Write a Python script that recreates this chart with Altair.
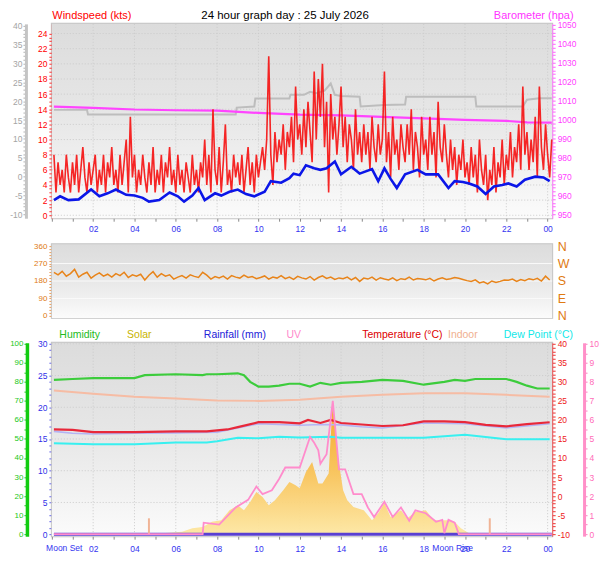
import altair as alt
import pandas as pd

FONT = "Liberation Sans"
W = 502
H1, H2, H3 = 195, 74, 194

TITLE = "24 hour graph day : 25 July 2026"

# ---------------- top panel data ----------------
gust_kts = [
    8, 3, 7, 4, 6, 3, 8, 5, 3, 7,
    4, 8, 3, 6, 9, 5, 3, 7, 4, 6,
    8, 3, 6, 4, 8, 3, 7, 5, 9, 4,
    6, 3, 8, 4, 7, 10, 3, 13, 5, 8,
    3, 6, 4, 8, 5, 3, 7, 4, 9, 3,
    6, 4, 8, 3, 7, 5, 9, 4, 6, 3,
    8, 4, 6, 3, 7, 5, 3, 8, 4, 6,
    3, 7, 5, 10, 4, 8, 3, 14, 6, 4,
    9, 3, 7, 12, 4, 6, 3, 8, 5, 7,
    4, 8, 3, 6, 9, 4, 7, 3, 8, 5,
    7, 9, 6, 10, 21, 8, 4, 11, 7, 10,
    8, 12, 6, 11, 9, 13, 7, 17, 10, 12,
    8, 14, 9, 15, 11, 7, 19, 10, 18, 13,
    20, 9, 15, 3, 16, 10, 13, 8, 12, 17,
    9, 13, 7, 12, 10, 6, 14, 8, 11, 7,
    12, 8, 11, 6, 13, 9, 7, 12, 8, 10,
    19, 7, 11, 5, 13, 8, 10, 6, 12, 9,
    7, 12, 8, 14, 6, 11, 9, 5, 13, 8,
    10, 6, 13, 8, 11, 5, 15, 9, 7, 12,
    8, 5, 10, 6, 9, 4, 8, 6, 10, 5,
    7, 4, 9, 5, 8, 3, 10, 6, 4, 8,
    2, 6, 4, 9, 3, 7, 5, 10, 4, 8,
    6, 11, 5, 9, 7, 12, 6, 17, 8, 11,
    6, 10, 7, 13, 5, 17, 9, 6, 12, 8,
    5, 10,
]
gust_hours = [round(0.1 + 0.1 * i, 2) for i in range(len(gust_kts))]

avg_hours = [0.1, 0.4, 0.8, 1.3, 1.9, 2.3, 2.7, 3.1, 3.6, 4.0, 4.4, 4.7, 5.2, 5.7, 6.1,
             6.4, 6.8, 7.1, 7.4, 7.9, 8.2, 8.6, 9.0, 9.4, 9.8, 10.3, 10.6, 11.1, 11.5,
             11.7, 12.0, 12.3, 12.7, 13.0, 13.3, 13.7, 14.0, 14.5, 14.9, 15.5, 15.8,
             16.1, 16.4, 16.7, 17.1, 17.7, 18.1, 18.7, 19.2, 19.5, 19.9, 20.2, 20.6,
             21.0, 21.4, 21.8, 22.1, 22.5, 22.9, 23.4, 23.8, 24.1]
avg_kts = [2.0, 2.5, 2.0, 2.1, 3.4, 2.5, 2.9, 3.4, 2.7, 2.6, 2.3, 1.8, 2.0, 3.0, 2.5,
           1.8, 2.6, 3.6, 2.0, 2.9, 2.6, 3.1, 3.4, 2.8, 2.5, 3.1, 4.5, 4.3, 4.9,
           5.5, 5.3, 6.6, 6.2, 6.0, 6.2, 7.1, 5.4, 6.4, 5.5, 6.1, 4.5,
           6.2, 4.8, 3.6, 5.4, 6.0, 5.4, 5.4, 3.6, 4.5, 4.4, 4.2, 3.8,
           2.8, 3.8, 4.0, 4.2, 3.8, 4.7, 5.1, 5.0, 4.5]

baro_hours = [0.1, 2, 4, 6, 8, 10, 12, 14, 16, 18, 20, 22, 23, 24.2]
baro_hpa = [1006.8, 1006.2, 1005.3, 1004.9, 1004.7, 1003.5, 1002.6, 1002.2, 1001.4,
            1000.6, 999.8, 999.3, 998.5, 998.4]

grey_hours = [0.1, 1.7, 1.75, 8.9, 8.95, 9.8, 9.85, 11.5, 11.55, 12.2, 12.5, 12.8, 13.2,
              13.5, 13.7, 14.0, 14.9, 14.95, 16.1, 17.1, 17.15, 20.5, 20.55, 22.8,
              23.0, 23.6, 24.2]
grey_vals = [17.7, 17.7, 16.5, 16.5, 18.3, 18.6, 20.7, 20.7, 21.7, 21.7, 22.5, 22.1, 22.8,
             24.7, 21.7, 21.4, 21.2, 18.6, 19.0, 19.1, 21.2, 21.2, 18.6, 18.6,
             20.4, 20.8, 20.8]

# ---------------- middle panel data ----------------
wdir_deg = [
    225, 212, 230, 205, 218, 240, 200, 215, 225, 195,
    210, 222, 205, 215, 200, 218, 208, 225, 198, 212,
    205, 215, 185, 210, 228, 200, 218, 205, 212, 190,
    200, 208, 195, 212, 204, 198, 225, 210, 190, 203,
    196, 205, 190, 208, 200, 195, 210, 198, 203, 192,
    198, 206, 190, 200, 195, 208, 192, 200, 188, 204,
    196, 190, 203, 185, 198, 207, 193, 200, 188, 196,
    192, 200, 186, 198, 178, 195, 190, 200, 185, 197,
    190, 185, 196, 182, 192, 188, 200, 185, 193, 190,
    186, 194, 180, 190, 196, 188, 192, 198, 194, 188,
    182, 178, 186, 170, 176, 165, 180, 172, 178, 185,
    184, 190, 178, 188, 182, 192, 186, 194, 180, 205,
    185,
]
wdir_hours = [round(0.1 + 0.2 * i, 2) for i in range(len(wdir_deg))]

# ---------------- bottom panel data ----------------
hum_hours = [0.1, 1.0, 2, 3, 4, 4.5, 6, 7.3, 7.5, 8, 9, 9.3, 9.6, 10, 10.5, 11, 11.5, 12,
             12.5, 13, 13.5, 14, 15, 16, 17, 18, 19, 19.5, 20, 20.5, 21, 22, 22.5, 23,
             23.5, 24.1]
hum_pct = [81, 81.5, 82, 82, 82, 83.5, 84, 83.5, 84, 84, 84.5, 83.5, 80, 77.5, 77.5, 78,
           79, 79, 77.5, 79.5, 78.5, 79.5, 80, 81, 80.5, 78.5, 80, 81, 80.5, 81.5, 81.5,
           81.5, 80, 78, 76.5, 76.5]

indoor_hours = [0.1, 2, 4, 6, 8, 10, 12, 14, 16, 18, 20, 22, 24.1]
indoor_c = [27.7, 26.9, 26.1, 25.6, 25.1, 25.0, 25.3, 26.1, 26.6, 27.0, 27.0, 26.6, 26.1]

temp_hours = [0.1, 1.0, 2, 4, 6, 7.5, 8.5, 9, 10, 11, 12, 12.4, 13, 13.5, 14, 15, 16, 17,
              18, 19, 20, 21, 22, 23, 24.1]
temp_c = [17.5, 17.4, 16.8, 16.8, 17.0, 17.0, 17.5, 18.1, 19.4, 19.4, 19.1, 20.0, 19.2,
          20.0, 19.2, 18.8, 18.4, 18.6, 19.6, 19.6, 19.4, 18.7, 18.3, 18.9, 19.4]

feels_hours = [0.1, 1, 2, 4, 6, 8, 10, 12, 13, 14, 15, 16, 18, 20, 22, 24.1]
feels_c = [17.0, 16.5, 16.3, 16.5, 16.6, 16.8, 19.0, 18.6, 18.8, 18.7, 18.2, 17.9, 19.2,
           19.0, 17.9, 19.0]

dew_hours = [0.1, 2, 4, 6, 7.5, 8, 9, 10, 11, 12, 13.5, 14, 18, 19, 20, 21, 22, 24.1]
dew_c = [13.9, 13.6, 13.6, 14.1, 14.1, 14.4, 15.3, 15.2, 15.6, 15.4, 15.6, 15.3, 15.3,
         15.7, 16.1, 15.5, 14.9, 14.9]

uv_hours = [0.1, 7.3, 7.35, 8.1, 8.9, 9.5, 9.9, 10.2, 10.65, 11.0, 11.3, 12.0, 12.5, 12.7,
            12.9, 13.0, 13.3, 13.6, 13.9, 14.2, 14.6, 15.0, 15.3, 15.6, 16.1, 16.5, 16.9,
            17.3, 17.6, 18.1, 18.6, 18.9, 19.0, 19.2, 19.5, 19.7, 24.2]
uv_index = [0, 0, 0.6, 0.5, 1.4, 1.8, 2.5, 2.1, 2.3, 2.9, 3.5, 3.5, 5.1, 4.8, 4.4, 3.7,
            4.2, 7.0, 3.4, 3.4, 2.1, 2.1, 1.4, 0.9, 1.7, 0.9, 1.4, 0.7, 1.25, 1.1, 0.65,
            0.75, 0.05, 0.75, 0.6, 0, 0]

solar_hours = [5.3, 5.5, 6.3, 6.8, 7.3, 7.75, 8.2, 8.6, 9.0, 9.3, 9.6, 9.9, 10.2, 10.5,
               10.8, 11.2, 11.5, 11.8, 12.0, 12.3, 12.6, 12.9, 13.1, 13.4, 13.6, 13.85,
               14.1, 14.3, 14.6, 15.1, 15.5, 15.8, 16.1, 16.4, 16.9, 17.2, 17.6, 18.1,
               18.5, 19.2, 19.5, 19.8, 20.2, 20.4]
solar_wm2 = [0, 10, 18, 47, 57, 97, 110, 188, 228, 188, 254, 332, 293, 228, 267, 345, 410,
             385, 361, 489, 568, 400, 400, 478, 1052, 607, 345, 267, 214, 188, 110, 165,
             246, 136, 188, 126, 175, 188, 110, 110, 97, 47, 8, 0]

rain_hours = [0.1, 24.2]
rain_mm = [0, 0]

spike_hours = [4.7, 21.2]
spike_vals = [2.5, 2.5]

moon_hours = [0.6, 19.4]
moon_labels = ["Moon Set", "Moon Rise"]

grid_hours = list(range(2, 25, 2))

# ---------------- helpers ----------------
xs = alt.Scale(domain=[0, 24.22], nice=False, zero=False)
HOUR_EXPR = ("(datum.value % 2 == 1 || datum.value == 0) ? '' : "
             "(datum.value == 24 ? '00' : (datum.value < 10 ? '0' + datum.value : '' + datum.value))")


def x_axis(pad):
    return alt.Axis(values=list(range(0, 25)), labelExpr=HOUR_EXPR, labelColor="#3434f0",
                    tickColor="#8a8a8a", tickSize=3, labelPadding=pad, domain=False,
                    grid=False, title=None, labelFontSize=8.5, labelFont=FONT,
                    labelOverlap=False)


X_TOP = x_axis(3)
X_BOT = x_axis(5)


def sc(lo, hi):
    return alt.Scale(domain=[lo, hi], nice=False, zero=False)


def df(t, v):
    return pd.DataFrame({"t": t, "v": v})


def bg(h):
    grad = alt.LinearGradient(
        gradient="linear",
        stops=[alt.GradientStop(color="#dcdcdc", offset=0),
               alt.GradientStop(color="#e6e6e6", offset=0.45),
               alt.GradientStop(color="#f1f1f1", offset=0.75),
               alt.GradientStop(color="#fbfbfb", offset=1)],
        x1=0, x2=0, y1=0, y2=1)
    return alt.Chart(pd.DataFrame({"a": [0]})).mark_rect(color=grad).encode(
        x=alt.value(0), x2=alt.value(W), y=alt.value(0), y2=alt.value(h))


def vgrid(xaxis):
    return alt.Chart(pd.DataFrame({"t": grid_hours})).mark_rule(
        color="#cbcbcb", strokeDash=[1, 2], strokeWidth=1).encode(
        x=alt.X("t:Q", scale=xs, axis=xaxis))


def hidden_title_axis(text, color, tx):
    return alt.Axis(orient="left", labels=False, ticks=False, domain=False, grid=False,
                    title=text, titleAngle=0, titleX=tx, titleY=-3, titleAlign="left",
                    titleBaseline="bottom", titleColor=color, titleFontSize=10.5,
                    titleFontWeight="normal", titleFont=FONT)


# ---------------- top panel ----------------
wind_sc = sc(-0.39, 25.28)
grey_sc = sc(-11.06, 40.53)
baro_sc = sc(947.9, 1050.53)

top_hgrid = alt.Chart(pd.DataFrame({"v": list(range(0, 25, 2))})).mark_rule(
    color="#cbcbcb", strokeDash=[1, 2]).encode(y=alt.Y("v:Q", scale=wind_sc, axis=None))

grey_line = alt.Chart(df(grey_hours, grey_vals)).mark_line(
    color="#bdbdbd", strokeWidth=2).encode(
    x=alt.X("t:Q", scale=xs, axis=X_TOP),
    y=alt.Y("v:Q", scale=grey_sc, axis=alt.Axis(
        orient="left", offset=26, values=list(range(-10, 41)),
        labelExpr="datum.value % 5 == 0 ? '' + datum.value : ''",
        labelColor="#a4a4a4", tickColor="#b4b4b4", tickSize=3, labelPadding=1,
        domainColor="#c4c4c4", domainWidth=3, grid=False, title=None,
        labelFontSize=8.5, labelFont=FONT)))

gust_line = alt.Chart(df(gust_hours, gust_kts)).mark_line(
    color="#f51414", strokeWidth=1.6, opacity=0.92).encode(
    x=alt.X("t:Q", scale=xs, axis=X_TOP),
    y=alt.Y("v:Q", scale=wind_sc, axis=alt.Axis(
        orient="left", offset=0, values=[i * 0.5 for i in range(0, 49)],
        labelExpr="datum.value % 2 == 0 ? '' + datum.value : ''",
        labelColor="#ff0000", tickColor="#ff3030", tickSize=3, labelPadding=2,
        domainColor="#ff5050", domainWidth=1, grid=False, labelFontSize=8.5,
        labelFont=FONT, title="Windspeed (kts)", titleAngle=0, titleX=0, titleY=-3,
        titleAlign="left", titleBaseline="bottom", titleColor="#ff0000",
        titleFontSize=11, titleFontWeight="normal", titleFont=FONT)))

avg_line = alt.Chart(df(avg_hours, avg_kts)).mark_line(
    color="#0b16e8", strokeWidth=2.6).encode(
    x=alt.X("t:Q", scale=xs, axis=X_TOP),
    y=alt.Y("v:Q", scale=wind_sc, axis=None))

baro_line = alt.Chart(df(baro_hours, baro_hpa)).mark_line(
    color="#ff44ff", strokeWidth=2.2).encode(
    x=alt.X("t:Q", scale=xs, axis=X_TOP),
    y=alt.Y("v:Q", scale=baro_sc, axis=alt.Axis(
        orient="right", offset=0, values=list(range(950, 1051, 2)),
        labelExpr="datum.value % 10 == 0 ? '' + datum.value : ''",
        labelColor="#ff40ff", tickColor="#ff60ff", tickSize=3, labelPadding=2,
        domainColor="#ff70ff", grid=False, labelFontSize=8.5, labelFont=FONT,
        title="Barometer (hpa)", titleAngle=0, titleX=21, titleY=-3,
        titleAlign="right", titleBaseline="bottom", titleColor="#ff33ff",
        titleFontSize=11, titleFontWeight="normal", titleFont=FONT)))

main_title = alt.Chart(pd.DataFrame({"s": [TITLE]})).mark_text(
    font=FONT, fontSize=11.5, color="#000000", baseline="bottom", align="center").encode(
    text="s:N", x=alt.value(234), y=alt.value(-3))

top = alt.layer(bg(H1), vgrid(X_TOP), top_hgrid, grey_line, baro_line, gust_line, avg_line,
                main_title).resolve_scale(y="independent").properties(width=W, height=H1)

# ---------------- middle panel ----------------
dir_sc = sc(-10.3, 370.3)
COMPASS = ("datum.value == 0 ? 'N' : datum.value == 90 ? 'E' : datum.value == 180 ? 'S' : "
           "datum.value == 270 ? 'W' : 'N'")

mid_hgrid = alt.Chart(pd.DataFrame({"v": [90, 180, 270]})).mark_rule(
    color="#fafafa", strokeWidth=1).encode(
    y=alt.Y("v:Q", scale=dir_sc, axis=alt.Axis(
        orient="right", values=[0, 90, 180, 270, 360], labelExpr=COMPASS,
        labels=True, ticks=False, domain=False, grid=False, title=None,
        labelColor="#e07a12", labelFontSize=12.5, labelFont=FONT, labelPadding=5)))

wdir_line = alt.Chart(df(wdir_hours, wdir_deg)).mark_line(
    color="#e8841a", strokeWidth=1.5).encode(
    x=alt.X("t:Q", scale=xs, axis=None),
    y=alt.Y("v:Q", scale=dir_sc, axis=alt.Axis(
        orient="left", values=list(range(0, 361, 15)),
        labelExpr="datum.value % 90 == 0 ? '' + datum.value : ''",
        labelColor="#e07a12", tickColor="#e8a060", tickSize=3, labelPadding=2,
        domainColor="#c4c4c4", domainWidth=2, grid=False, title=None,
        labelFontSize=8, labelFont=FONT)))

mid = alt.layer(bg(H2), mid_hgrid, wdir_line).resolve_scale(y="independent").properties(
    width=W, height=H2)

# ---------------- bottom panel ----------------
rain_sc = sc(-0.31, 30.16)
hum_sc = sc(-1.05, 100.52)
temp_sc = sc(-10.52, 40.26)
uv_sc = sc(-0.105, 10.05)
solar_sc = sc(-15.7, 1507.9)

bot_hgrid = alt.Chart(pd.DataFrame({"v": list(range(5, 31, 5))})).mark_rule(
    color="#cbcbcb", strokeDash=[1, 2]).encode(y=alt.Y("v:Q", scale=rain_sc, axis=None))

solar_grad = alt.LinearGradient(
    gradient="linear",
    stops=[alt.GradientStop(color="#f5a41f", offset=0),
           alt.GradientStop(color="#f9c45a", offset=0.55),
           alt.GradientStop(color="#fde7a2", offset=1)],
    x1=0, x2=0, y1=0, y2=1)

solar_area = alt.Chart(df(solar_hours, solar_wm2)).mark_area(
    color=solar_grad, opacity=0.95).encode(
    x=alt.X("t:Q", scale=xs, axis=X_BOT),
    y=alt.Y("v:Q", scale=solar_sc, axis=hidden_title_axis("Solar", "#c8b400", 75)))

rain_line = alt.Chart(df(rain_hours, rain_mm)).mark_line(
    color="#5a40d2", strokeWidth=3).encode(
    x=alt.X("t:Q", scale=xs, axis=X_BOT),
    y=alt.Y("v:Q", scale=rain_sc, axis=alt.Axis(
        orient="left", offset=0, values=list(range(0, 31)),
        labelExpr="datum.value % 5 == 0 ? '' + datum.value : ''",
        labelColor="#3030e8", tickColor="#6a6ae8", tickSize=3, labelPadding=2,
        domainColor="#c4c4c4", domainWidth=2, grid=False, labelFontSize=8.5,
        labelFont=FONT, title="Rainfall (mm)", titleAngle=0, titleX=152, titleY=-3,
        titleAlign="left", titleBaseline="bottom", titleColor="#2222d8",
        titleFontSize=10.5, titleFontWeight="normal", titleFont=FONT)))

spikes = alt.Chart(df(spike_hours, spike_vals)).mark_rule(
    color="#f0b496", strokeWidth=2).encode(
    x=alt.X("t:Q", scale=xs, axis=X_BOT),
    y=alt.Y("v:Q", scale=rain_sc, axis=None),
    y2=alt.datum(0))

hum_line = alt.Chart(df(hum_hours, hum_pct)).mark_line(
    color="#3ccc3c", strokeWidth=2.2).encode(
    x=alt.X("t:Q", scale=xs, axis=X_BOT),
    y=alt.Y("v:Q", scale=hum_sc, axis=alt.Axis(
        orient="left", offset=25, values=list(range(0, 101, 5)),
        labelExpr="datum.value % 10 == 0 ? '' + datum.value : ''",
        labelColor="#22c822", tickColor="#22c822", tickSize=3, labelPadding=1,
        domainColor="#11cc11", domainWidth=3.5, grid=False, labelFontSize=8,
        labelFont=FONT, title="Humidity", titleAngle=0, titleX=32, titleY=-3,
        titleAlign="left", titleBaseline="bottom", titleColor="#22bb22",
        titleFontSize=10.5, titleFontWeight="normal", titleFont=FONT)))

indoor_line = alt.Chart(df(indoor_hours, indoor_c)).mark_line(
    color="#f6bca4", strokeWidth=2).encode(
    x=alt.X("t:Q", scale=xs, axis=X_BOT),
    y=alt.Y("v:Q", scale=temp_sc, axis=hidden_title_axis("Indoor", "#f0b090", 397)))

dew_line = alt.Chart(df(dew_hours, dew_c)).mark_line(
    color="#38f0f0", strokeWidth=2).encode(
    x=alt.X("t:Q", scale=xs, axis=X_BOT),
    y=alt.Y("v:Q", scale=temp_sc, axis=hidden_title_axis("Dew Point (°C)", "#10e8e8", 453)))

feels_line = alt.Chart(df(feels_hours, feels_c)).mark_line(
    color="#b4b4f4", strokeWidth=1.6).encode(
    x=alt.X("t:Q", scale=xs, axis=X_BOT),
    y=alt.Y("v:Q", scale=temp_sc, axis=None))

temp_line = alt.Chart(df(temp_hours, temp_c)).mark_line(
    color="#e8283a", strokeWidth=2.2).encode(
    x=alt.X("t:Q", scale=xs, axis=X_BOT),
    y=alt.Y("v:Q", scale=temp_sc, axis=alt.Axis(
        orient="right", offset=0, values=list(range(-10, 41)),
        labelExpr="datum.value % 5 == 0 ? '' + datum.value : ''",
        labelColor="#ee2020", tickColor="#ee3030", tickSize=3, labelPadding=2,
        domainColor="#ee4040", grid=False, labelFontSize=8.5, labelFont=FONT,
        title="Temperature (°C)", titleAngle=0, titleX=-191, titleY=-3,
        titleAlign="left", titleBaseline="bottom", titleColor="#dd0000",
        titleFontSize=10.5, titleFontWeight="normal", titleFont=FONT)))

uv_line = alt.Chart(df(uv_hours, uv_index)).mark_line(
    color="#ff8ccc", strokeWidth=1.8).encode(
    x=alt.X("t:Q", scale=xs, axis=X_BOT),
    y=alt.Y("v:Q", scale=uv_sc, axis=alt.Axis(
        orient="right", offset=32, values=[i * 0.5 for i in range(0, 21)],
        labelExpr="datum.value % 1 == 0 ? '' + datum.value : ''",
        labelColor="#ff6cb8", tickColor="#ff80c4", tickSize=3, labelPadding=2,
        domainColor="#ff90c8", domainWidth=3, grid=False, labelFontSize=8.5,
        labelFont=FONT, title="UV", titleAngle=0, titleX=-299, titleY=-3,
        titleAlign="left", titleBaseline="bottom", titleColor="#ff88cc",
        titleFontSize=10.5, titleFontWeight="normal", titleFont=FONT)))

moon_text = alt.Chart(pd.DataFrame({"t": moon_hours, "s": moon_labels})).mark_text(
    font=FONT, fontSize=8.5, color="#3434f0", baseline="middle", align="center").encode(
    x=alt.X("t:Q", scale=xs, axis=X_BOT), y=alt.value(H3 + 12), text="s:N")

bot = alt.layer(bg(H3), vgrid(X_BOT), bot_hgrid, solar_area, rain_line, spikes, hum_line,
                indoor_line, dew_line, feels_line, temp_line, uv_line, moon_text
                ).resolve_scale(y="independent").properties(width=W, height=H3)

chart = alt.vconcat(top, mid, bot, spacing=5).properties(
    padding={"left": 0, "top": 0, "right": 0, "bottom": 0},
    background="#ffffff",
).configure_view(stroke="#c4c4c4", strokeWidth=2)

chart.save("out.html", embed_options={"renderer": "svg", "actions": False})
